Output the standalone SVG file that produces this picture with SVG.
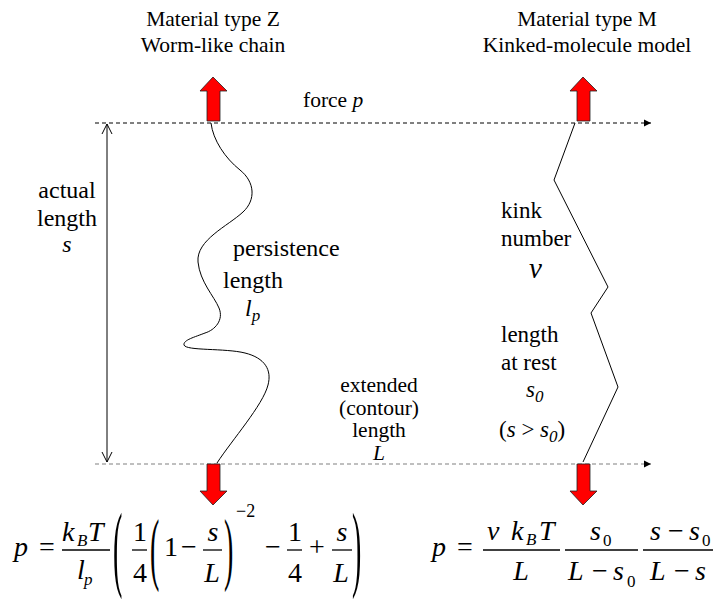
<svg xmlns="http://www.w3.org/2000/svg" width="714" height="599" viewBox="0 0 714 599" font-family="'Liberation Serif','Times New Roman',serif">
<defs>
<style>
text{font-family:"Liberation Serif","Times New Roman",serif;fill:#000}
.t{font-size:21.5px;text-anchor:middle}
.b{font-size:24px;text-anchor:middle}
.bs{font-size:24px}
.k{font-size:23px}
.e{font-size:21.5px;text-anchor:middle}
.i{font-style:italic}
.f{font-size:28px}
.fc{font-size:28px;text-anchor:middle}
.sub{font-size:17px}
.bar{stroke:#000;stroke-width:1.3}
.red{fill:#ff0000;stroke:#222;stroke-width:0.8}
.curve{fill:none;stroke:#000;stroke-width:1}
</style>
<marker id="ah" markerWidth="8" markerHeight="8" refX="7" refY="4" orient="auto" markerUnits="userSpaceOnUse">
<path d="M0,0.5 L7,4 L0,7.5 Z" fill="#000"/>
</marker>
<marker id="vh" markerWidth="12" markerHeight="12" refX="10" refY="6" orient="auto-start-reverse" markerUnits="userSpaceOnUse">
<path d="M0,1 L10,6 L0,11" fill="none" stroke="#000" stroke-width="1"/>
</marker>
</defs>
<g id="connectors">
<line x1="95" y1="123" x2="651" y2="123" stroke="#000" stroke-width="1" stroke-dasharray="4,3" marker-end="url(#ah)"/>
<line x1="95" y1="464" x2="651" y2="464" stroke="#808080" stroke-width="1.2" stroke-dasharray="4,3" marker-end="url(#ah)"/>
<line x1="107" y1="124" x2="107" y2="462" stroke="#000" stroke-width="1" marker-start="url(#vh)" marker-end="url(#vh)"/>
</g>
<g id="titles">
<text class="t" x="213" y="26">Material type Z</text>
<text class="t" x="213" y="52">Worm-like chain</text>
<text class="t" x="587" y="26">Material type M</text>
<text class="t" x="587" y="52">Kinked-molecule model</text>
<text x="303" y="107" style="font-size:21.5px">force <tspan class="i">p</tspan></text>
</g>
<g id="arrows">
<path class="red" d="M213,77 L227,91 L220,91 L220,121 L207,121 L207,91 L200,91 Z"/>
<path class="red" d="M583,77 L597,91 L590,91 L590,121 L577,121 L577,91 L570,91 Z"/>
<path class="red" d="M213,505 L227,491 L220,491 L220,464 L207,464 L207,491 L200,491 Z"/>
<path class="red" d="M583,505 L597,491 L590,491 L590,464 L577,464 L577,491 L570,491 Z"/>
</g>
<g id="chain-z">
<path class="curve" d="M211,123 C213,140 225,158 240,170 C255,182 256,200 243,212 C228,226 196,240 198,262 C200,282 214,296 219,308 C224,320 215,330 205,333 C195,337 183,340 184,345 C186,351 225,348 245,353 C265,358 272,370 268,385 C263,405 232,440 217,463"/>
</g>
<g id="chain-m">
<polyline class="curve" points="575,123 554,180 608,287 591,313 618,387 583,462"/>
</g>
<g id="label-actual">
<text class="b" x="67" y="198">actual</text>
<text class="b" x="67" y="226">length</text>
<text class="b i" x="67" y="252">s</text>
</g>
<g id="label-persistence">
<text class="bs" x="233" y="256">persistence</text>
<text class="bs" x="223" y="288">length</text>
<text class="bs i" x="245" y="316">l<tspan class="sub" dy="5">p</tspan></text>
</g>
<g id="label-extended">
<text class="e" x="379" y="392">extended</text>
<text class="e" x="379" y="415">(contour)</text>
<text class="e" x="379" y="437">length</text>
<text class="e i" x="379" y="460">L</text>
</g>
<g id="label-kink">
<text class="k" x="501" y="218">kink</text>
<text class="k" x="501" y="246">number</text>
<text class="k i" x="529" y="278" style="font-size:29px">v</text>
<text class="k" x="501" y="342">length</text>
<text class="k" x="501" y="370">at rest</text>
<text class="k i" x="526" y="397">s<tspan class="sub" dy="5">0</tspan></text>
<text class="k" x="499" y="437">(<tspan class="i">s</tspan> &gt; <tspan class="i">s</tspan><tspan class="sub i" dy="5">0</tspan><tspan dy="-5">)</tspan></text>
</g>
<g id="formula-z">
<text class="f i" x="14" y="556">p</text>
<text class="fc" x="47" y="556">=</text>
<line class="bar" x1="62" y1="550" x2="110" y2="550"/>
<text class="f i" x="62" y="541">k</text>
<text class="sub i" x="77" y="546">B</text>
<text class="f i" x="88" y="541">T</text>
<text class="f i" x="77" y="579">l</text>
<text class="sub i" x="84" y="585">p</text>
<text class="f" transform="translate(113,579) scale(1,3.4)">(</text>
<line class="bar" x1="132" y1="550" x2="147" y2="550"/>
<text class="fc" x="140" y="541">1</text>
<text class="fc" x="140" y="582">4</text>
<text class="f" transform="translate(150,575) scale(1,2.9)">(</text>
<text class="fc" x="171" y="556">1</text>
<text class="fc" x="189" y="556">−</text>
<line class="bar" x1="203" y1="550" x2="222" y2="550"/>
<text class="fc i" x="213" y="541">s</text>
<text class="fc i" x="212" y="582">L</text>
<text class="f" transform="translate(224,575) scale(1,2.9)">)</text>
<text x="236" y="517" style="font-size:18px">−2</text>
<text class="fc" x="273" y="556">−</text>
<line class="bar" x1="287" y1="550" x2="302" y2="550"/>
<text class="fc" x="295" y="541">1</text>
<text class="fc" x="295" y="582">4</text>
<text class="fc" x="317" y="556">+</text>
<line class="bar" x1="332" y1="550" x2="352" y2="550"/>
<text class="fc i" x="342" y="541">s</text>
<text class="fc i" x="341" y="582">L</text>
<text class="f" transform="translate(352,579) scale(1,3.4)">)</text>
</g>
<g id="formula-m">
<text class="f i" x="432" y="556">p</text>
<text class="fc" x="465" y="556">=</text>
<line class="bar" x1="483" y1="550" x2="560" y2="550"/>
<text class="f i" x="487" y="540">v</text>
<text class="f i" x="511" y="540">k</text>
<text class="sub i" x="526" y="545">B</text>
<text class="f i" x="539" y="540">T</text>
<text class="fc i" x="521" y="580">L</text>
<line class="bar" x1="565" y1="550" x2="638" y2="550"/>
<text class="f i" x="590" y="540">s</text>
<text class="sub" x="603" y="546">0</text>
<text class="f i" x="568" y="580">L</text>
<text class="fc" x="600" y="580">−</text>
<text class="f i" x="613" y="580">s</text>
<text class="sub" x="627" y="587">0</text>
<line class="bar" x1="643" y1="550" x2="713" y2="550"/>
<text class="f i" x="650" y="540">s</text>
<text class="fc" x="676" y="540">−</text>
<text class="f i" x="689" y="540">s</text>
<text class="sub" x="702" y="546">0</text>
<text class="f i" x="650" y="580">L</text>
<text class="fc" x="682" y="580">−</text>
<text class="f i" x="695" y="580">s</text>
</g>
</svg>
